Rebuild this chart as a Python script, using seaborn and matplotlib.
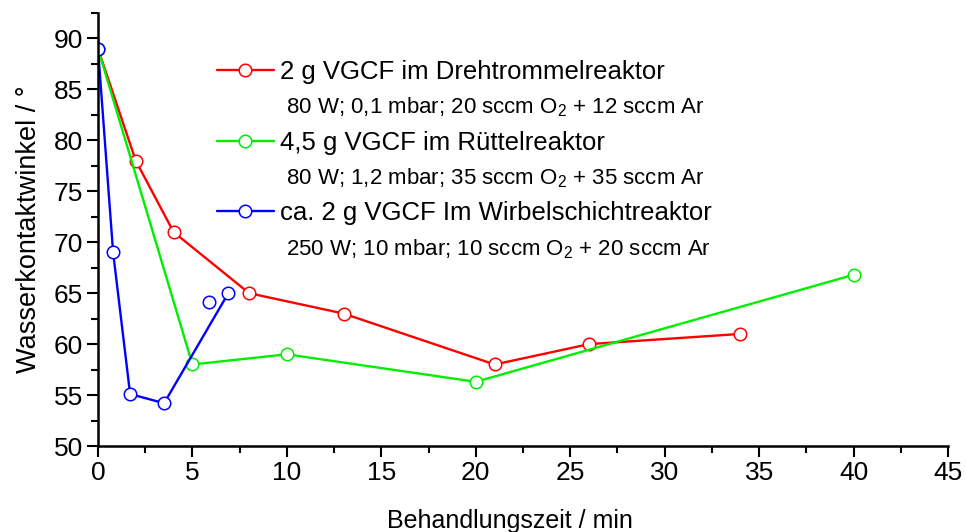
import matplotlib
matplotlib.use("Agg")
import matplotlib.pyplot as plt
import seaborn as sns
import pandas as pd
import numpy as np
from matplotlib.lines import Line2D
from matplotlib.ticker import MultipleLocator

# ---- data ----
red_x = [0, 2, 4, 8, 13, 21, 26, 34]
red_y = [89, 78, 71, 65, 63, 58, 60, 61]
green_x = [0, 5, 10, 20, 40]
green_y = [89, 58, 59, 56.3, 66.8]
blue_x = [0, 0.8, 1.7, 3.5, 6.9]
blue_y = [89, 69, 55.1, 54.2, 65]
blue_extra_x = [5.9]
blue_extra_y = [64.1]

labels = ["2 g VGCF im Drehtrommelreaktor",
          "4,5 g VGCF im Rüttelreaktor",
          "ca. 2 g VGCF Im Wirbelschichtreaktor"]
sublabels = ["80 W; 0,1 mbar; 20 sccm O$_2$ + 12 sccm Ar",
             "80 W; 1,2 mbar; 35 sccm O$_2$ + 35 sccm Ar",
             "250 W; 10 mbar; 10 sccm O$_2$ + 20 sccm Ar"]
colors = ["#ff0000", "#00ee00", "#0000ff"]

sns.set_theme(style="white")
plt.rcParams['font.family'] = ['Liberation Sans', 'DejaVu Sans']
plt.rcParams['mathtext.fontset'] = 'custom'
plt.rcParams['mathtext.rm'] = 'Liberation Sans'
plt.rcParams['mathtext.it'] = 'Liberation Sans:italic'

fig = plt.figure(figsize=(9.66, 5.32), dpi=100)
ax = fig.add_axes([98/966, (532-446)/532, 850/966, (446-13)/532])

series = [(red_x, red_y), (green_x, green_y), (blue_x, blue_y)]
handles = []
mk = dict(marker="o", markersize=9, markerfacecolor="white", markeredgewidth=1.1)
for (xs, ys), c, lab in zip(series, colors, labels):
    df = pd.DataFrame({"x": xs, "y": ys})
    sns.lineplot(data=df, x="x", y="y", ax=ax, sort=False, estimator=None,
                 color=c, lw=1.7, markeredgecolor=c, **mk)
    handles.append(Line2D([], [], color=c, lw=1.7, markeredgecolor=c, **mk))

dfe = pd.DataFrame({"x": blue_extra_x, "y": blue_extra_y})
sns.lineplot(data=dfe, x="x", y="y", ax=ax, estimator=None, color=colors[2],
             linestyle="", markeredgecolor=colors[2], **mk)

ax.set_xlim(0, 45)
ax.set_ylim(50, 92.5)
ax.xaxis.set_major_locator(MultipleLocator(5))
ax.xaxis.set_minor_locator(MultipleLocator(2.5))
ax.set_yticks([50, 55, 60, 65, 70, 75, 80, 85, 90])
ax.yaxis.set_minor_locator(MultipleLocator(2.5))
ax.tick_params(which="major", direction="out", length=8, width=1.5, labelsize=19,
               bottom=True, left=True, color="black", labelcolor="black", pad=3)
ax.tick_params(which="minor", direction="out", length=5, width=1.5,
               bottom=True, left=True, color="black")
for s in ["top", "right"]:
    ax.spines[s].set_visible(False)
for s in ["left", "bottom"]:
    ax.spines[s].set_linewidth(1.8)
    ax.spines[s].set_color("black")

ax.set_xlabel("Behandlungszeit / min", fontsize=18, labelpad=14, color="black")
ax.xaxis.set_label_coords(0.485, -0.145)
ax.set_ylabel("Wasserkontaktwinkel / °", fontsize=19.5, labelpad=8, color="black")

empty = Line2D([], [], linestyle="", marker="")
leg_handles = []
leg_labels = []
for h, l, sl in zip(handles, labels, sublabels):
    leg_handles += [h, empty]
    leg_labels += [l, " " + sl]
leg = ax.legend(leg_handles, leg_labels, loc="upper left",
                bbox_to_anchor=((217-98)/850, (446-60)/433), frameon=False,
                fontsize=18.5, handlelength=2.2, handletextpad=0.25,
                borderpad=0, borderaxespad=0, labelspacing=0.45)
for i, t in enumerate(leg.get_texts()):
    t.set_color("black")
    if i % 2 == 1:
        t.set_fontsize(16)

fig.savefig("out.png", dpi=100)
